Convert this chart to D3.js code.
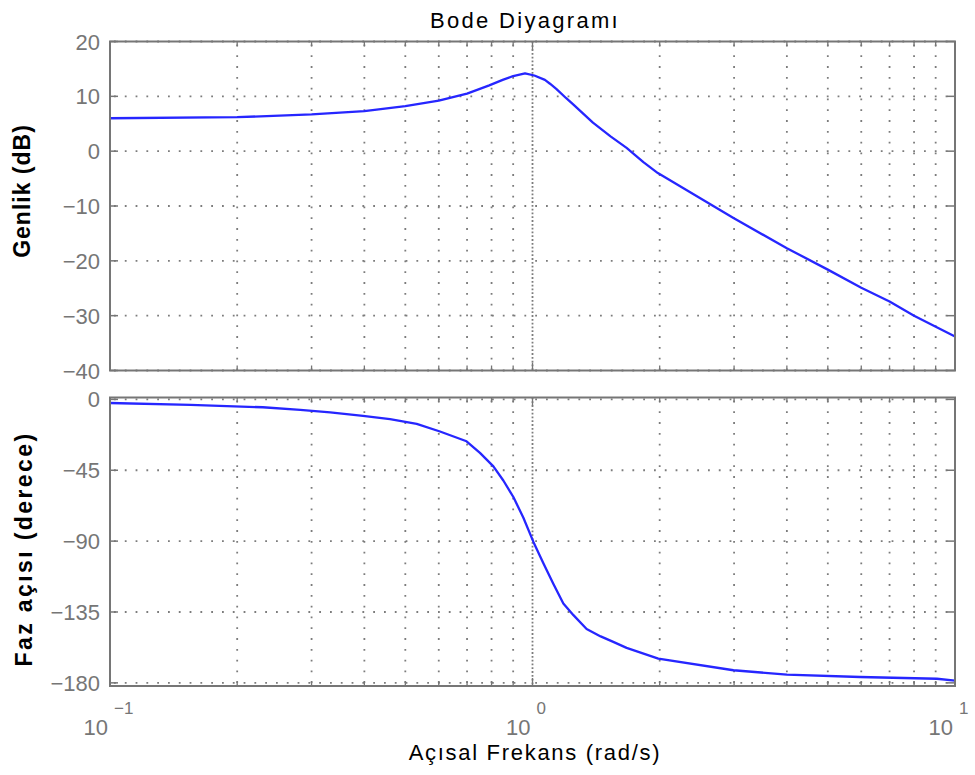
<!DOCTYPE html>
<html>
<head>
<meta charset="utf-8">
<script src="https://cdn.jsdelivr.net/npm/d3@7"></script>
<style>
body { margin: 0; background: #fff; }
text { font-family: "Liberation Sans", Arial, sans-serif; }
</style>
</head>
<body>
<div id="chart"></div>
<script>
// genlik egrisi (okunan degerler)
var magFreq = [0.1, 0.2, 0.3, 0.4, 0.5, 0.6, 0.7, 0.79, 0.85, 0.9, 0.96, 1.01, 1.07, 1.1, 1.14, 1.2, 1.25, 1.39, 1.53, 1.67, 1.83, 1.98, 2.99, 4.0, 5.0, 6.0, 7.0, 8.0, 10];
var magDb = [6.0, 6.2, 6.7, 7.3, 8.2, 9.2, 10.5, 12.0, 13.0, 13.7, 14.2, 13.8, 13.0, 12.3, 11.3, 9.7, 8.5, 5.2, 2.7, 0.6, -2.0, -4.0, -12.2, -17.7, -21.6, -24.9, -27.4, -30.0, -33.8];
// faz egrisi
var phaseFreq = [0.1, 0.155, 0.23, 0.282, 0.332, 0.397, 0.46, 0.532, 0.604, 0.698, 0.751, 0.808, 0.853, 0.901, 0.951, 1.005, 1.061, 1.12, 1.183, 1.25, 1.343, 1.45, 1.553, 1.67, 1.985, 2.99, 4.0, 5.96, 9.06, 10];
var phaseDeg = [-2.3, -3.5, -5.0, -6.6, -8.3, -10.5, -12.6, -15.5, -20.4, -26.6, -34, -42.5, -51.5, -62, -75, -90.5, -104, -117, -129.6, -137, -145.8, -150.5, -154, -157.8, -164.6, -172, -174.8, -176.3, -177.4, -178.6];

var magTicks = [20, 10, 0, -10, -20, -30, -40];
var phaseTicks = [0, -45, -90, -135, -180];
var decades = [0.1, 1, 10];
var decadeExp = ["\u22121", "0", "1"];

var W = 975, H = 775;
var left = 110, right = 955;

var svg = d3.select("#chart").append("svg")
    .attr("width", W)
    .attr("height", H);

var x = d3.scaleLog().domain([0.1, 10]).range([left, right]);

var minorFreq = [];
[0.1, 1].forEach(function (d) {
    for (var k = 2; k <= 9; k++) minorFreq.push(d * k);
});

var gridColor = "#7c7c7c", frameColor = "#767676", labelColor = "#767676";

function drawPanel(yDomain, top, bottom, ticks, freq, vals) {
    var y = d3.scaleLinear().domain(yDomain).range([bottom, top]);
    var g = svg.append("g");

    // dikey izgara
    g.selectAll(".vminor").data(minorFreq).enter().append("line")
        .attr("x1", function (d) { return x(d); })
        .attr("x2", function (d) { return x(d); })
        .attr("y1", top).attr("y2", bottom)
        .attr("stroke", gridColor).attr("stroke-width", 1.8)
        .attr("stroke-dasharray", "1.8,9")
        .attr("stroke-dashoffset", -3);
    g.append("line")
        .attr("x1", x(1)).attr("x2", x(1))
        .attr("y1", top).attr("y2", bottom)
        .attr("stroke", gridColor).attr("stroke-width", 1.8)
        .attr("stroke-dasharray", "1.8,2");

    // yatay izgara
    g.selectAll(".hgrid").data(ticks).enter().append("line")
        .attr("x1", left).attr("x2", right)
        .attr("y1", function (d) { return y(d); })
        .attr("y2", function (d) { return y(d); })
        .attr("stroke", gridColor).attr("stroke-width", 1.8)
        .attr("stroke-dasharray", "1.8,9")
        .attr("stroke-dashoffset", -4);

    // egri
    var line = d3.line()
        .x(function (d, i) { return x(freq[i]); })
        .y(function (d) { return y(d); });
    g.append("path")
        .datum(vals)
        .attr("d", line)
        .attr("fill", "none")
        .attr("stroke", "#2626ff")
        .attr("stroke-width", 2.3)
        .attr("stroke-linejoin", "round");

    // cerceve
    g.append("rect")
        .attr("x", left).attr("y", top)
        .attr("width", right - left).attr("height", bottom - top)
        .attr("fill", "none")
        .attr("stroke", frameColor).attr("stroke-width", 2);

    // x isaretleri (ic)
    var allX = minorFreq.map(function (d) { return { f: d, len: 5 }; })
        .concat(decades.map(function (d) { return { f: d, len: 8 }; }));
    allX.forEach(function (t) {
        g.append("line").attr("x1", x(t.f)).attr("x2", x(t.f))
            .attr("y1", bottom).attr("y2", bottom - t.len)
            .attr("stroke", frameColor).attr("stroke-width", 1.3);
        g.append("line").attr("x1", x(t.f)).attr("x2", x(t.f))
            .attr("y1", top).attr("y2", top + t.len)
            .attr("stroke", frameColor).attr("stroke-width", 1.3);
    });

    // y isaretleri
    ticks.forEach(function (t) {
        g.append("line").attr("x1", left).attr("x2", left + 8)
            .attr("y1", y(t)).attr("y2", y(t))
            .attr("stroke", frameColor).attr("stroke-width", 1.5);
        g.append("line").attr("x1", right).attr("x2", right - 8)
            .attr("y1", y(t)).attr("y2", y(t))
            .attr("stroke", frameColor).attr("stroke-width", 1.5);
    });

    g.selectAll(".ylab").data(ticks).enter().append("text")
        .attr("x", left - 10)
        .attr("y", function (d) { return y(d) + 8; })
        .attr("text-anchor", "end")
        .attr("font-size", 22)
        .attr("fill", labelColor)
        .text(function (d) { return d < 0 ? "\u2212" + Math.abs(d) : d; });

    return y;
}

drawPanel([-40, 20], 41.5, 370.5, magTicks, magFreq, magDb);
drawPanel([-182, 1.2], 397.5, 686, phaseTicks, phaseFreq, phaseDeg);

// x ekseni etiketleri 10^n
decades.forEach(function (d, i) {
    svg.append("text")
        .attr("x", x(d) - 2)
        .attr("y", 735)
        .attr("text-anchor", "end")
        .attr("font-size", 22)
        .attr("fill", labelColor)
        .text("10");
    svg.append("text")
        .attr("x", x(d) + 4)
        .attr("y", 714)
        .attr("font-size", 17)
        .attr("fill", labelColor)
        .text(decadeExp[i]);
});

// basliklar
svg.append("text")
    .attr("x", 525).attr("y", 28)
    .attr("text-anchor", "middle")
    .attr("font-size", 22)
    .attr("letter-spacing", 2.3)
    .attr("fill", "#000")
    .text("Bode Diyagramı");

svg.append("text")
    .attr("x", 535).attr("y", 760)
    .attr("text-anchor", "middle")
    .attr("font-size", 22)
    .attr("letter-spacing", 1.7)
    .attr("fill", "#000")
    .text("Açısal Frekans (rad/s)");

svg.append("text")
    .attr("transform", "translate(30,191) rotate(-90)")
    .attr("text-anchor", "middle")
    .attr("font-size", 23)
    .attr("font-weight", "bold")
    .attr("letter-spacing", 1)
    .attr("fill", "#000")
    .text("Genlik (dB)");

svg.append("text")
    .attr("transform", "translate(32,549) rotate(-90)")
    .attr("text-anchor", "middle")
    .attr("font-size", 23)
    .attr("font-weight", "bold")
    .attr("letter-spacing", 2.4)
    .attr("fill", "#000")
    .text("Faz açısı (derece)");
</script>
</body>
</html>
